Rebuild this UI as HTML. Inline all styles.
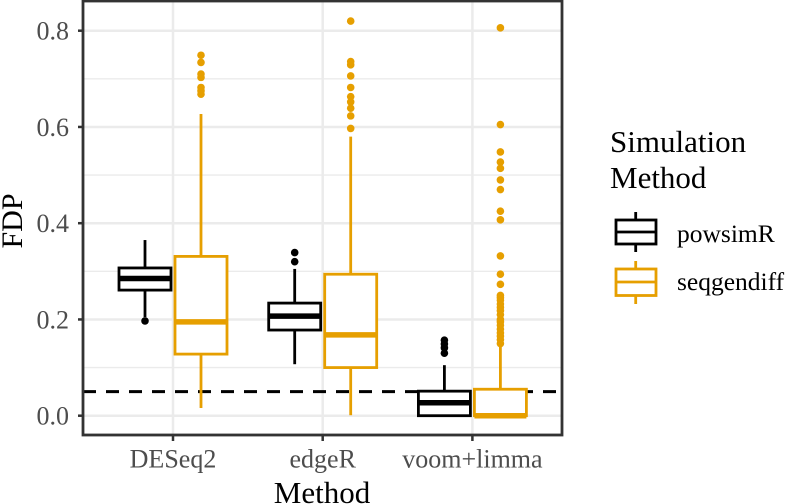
<!DOCTYPE html>
<html><head><meta charset="utf-8"><style>
body{margin:0;background:#fff;}
svg{display:block;font-family:"Liberation Serif",serif;}
</style></head><body>
<svg id="chart" width="787" height="504" viewBox="0 0 787 504"></svg>
<script>
const categories = ["DESeq2","edgeR","voom+limma"];
const seriesNames = ["powsimR","seqgendiff"];
const seriesColors = ["#000000","#E69F00"];
// [lowerWhisker, Q1, median, Q3, upperWhisker]
const powsimStats = [[0.205,0.261,0.285,0.307,0.365],[0.107,0.178,0.207,0.234,0.305],[0.0,0.0,0.027,0.051,0.105]];
const seqgenStats = [[0.016,0.128,0.195,0.331,0.627],[0.001,0.100,0.168,0.294,0.580],[0.0,0.0,0.0,0.055,0.143]];
const powsimOutliers = [[0.197],[0.320,0.339],[0.130,0.141,0.149,0.157]];
const seqgenOutliers = [
 [0.668,0.675,0.682,0.703,0.710,0.734,0.749],
 [0.597,0.623,0.639,0.652,0.663,0.682,0.706,0.729,0.736,0.820],
 [0.150,0.158,0.165,0.172,0.180,0.188,0.195,0.200,0.210,0.218,0.225,0.232,0.240,0.245,0.250,0.273,0.294,0.332,0.407,0.425,0.470,0.490,0.514,0.527,0.548,0.605,0.806]
];
const yTicks = [0.0,0.2,0.4,0.6,0.8];
const yTickLabels = ["0.0","0.2","0.4","0.6","0.8"];
const yMinor = [0.1,0.3,0.5,0.7];
const threshold = 0.05;

const svg = document.getElementById('chart');
const NS = "http://www.w3.org/2000/svg";
const P = {l:83,r:562,t:1,b:435};
const y = v => 415.7 - v*481.25;
const x = i => 173 + i*149.7;
function mk(tag, attrs, parent){const e=document.createElementNS(NS,tag);for(const k in attrs)e.setAttribute(k,attrs[k]);(parent||svg).appendChild(e);return e;}

const grid = mk('g',{});


yMinor.forEach(v=>{const l=mk('line',{x1:P.l,x2:P.r,y1:y(v),y2:y(v),stroke:'#ebebeb','stroke-width':1.3},grid);});
yTicks.forEach(v=>{const l=mk('line',{x1:P.l,x2:P.r,y1:y(v),y2:y(v),stroke:'#ebebeb','stroke-width':2.5},grid);});
categories.forEach((c,i)=>{const l=mk('line',{x1:x(i),x2:x(i),y1:P.t,y2:P.b,stroke:'#ebebeb','stroke-width':2.5},grid);});

const dash = mk('line',{x1:P.l,x2:P.r,y1:y(threshold),y2:y(threshold),stroke:'#000','stroke-width':3,'stroke-dasharray':'13,10'});



const allStats=[powsimStats,seqgenStats], allOut=[powsimOutliers,seqgenOutliers];
const off=[-28,28], bw=52;
allStats.forEach((S,s)=>{
  const col=seriesColors[s];
  S.forEach((st,i)=>{
    const cx=x(i)+off[s];
    const g=mk('g',{});
    
    
    mk('line',{x1:cx,x2:cx,y1:y(st[3]),y2:y(st[4]),stroke:col,'stroke-width':2.8},g);
    mk('line',{x1:cx,x2:cx,y1:y(st[1]),y2:y(st[0]),stroke:col,'stroke-width':2.8},g);
    mk('rect',{x:cx-bw/2,y:y(st[3]),width:bw,height:Math.max(0,y(st[1])-y(st[3])),fill:'#fff',stroke:col,'stroke-width':2.8},g);
    mk('line',{x1:cx-bw/2,x2:cx+bw/2,y1:y(st[2]),y2:y(st[2]),stroke:col,'stroke-width':5.5},g);
    allOut[s][i].forEach(v=>{const c=mk('circle',{cx:cx,cy:y(v),r:3.8,fill:col},g);});
  });
});

const border=mk('rect',{x:P.l,y:P.t,width:P.r-P.l,height:P.b-P.t,fill:'none',stroke:'#333','stroke-width':2.8});



yTicks.forEach((v,i)=>{
  mk('line',{x1:P.l-5,x2:P.l,y1:y(v),y2:y(v),stroke:'#333','stroke-width':2.5});
  const t=mk('text',{x:P.l-14,y:y(v)+9,'text-anchor':'end','font-size':26,fill:'#4d4d4d'});
  t.textContent=yTickLabels[i];
  
  
});
categories.forEach((c,i)=>{
  mk('line',{x1:x(i),x2:x(i),y1:P.b,y2:P.b+6,stroke:'#333','stroke-width':2.5});
  const t=mk('text',{x:x(i),y:467.5,'text-anchor':'middle','font-size':26,fill:'#4d4d4d'});
  t.textContent=c;
  
  
});
</script>
<script>
(function(){
const svg=document.getElementById('chart');const NS="http://www.w3.org/2000/svg";
function mk(tag,a){const e=document.createElementNS(NS,tag);for(const k in a)e.setAttribute(k,a[k]);svg.appendChild(e);return e;}
let t=mk('text',{x:322,y:503,'text-anchor':'middle','font-size':31,fill:'#000'});t.textContent='Method';


t=mk('text',{x:0,y:0,'text-anchor':'middle','font-size':30,fill:'#000',transform:'translate(22,221) rotate(-90)'});t.textContent='FDP';


t=mk('text',{x:610,y:152,'font-size':31,fill:'#000'});t.textContent='Simulation';


t=mk('text',{x:610,y:188,'font-size':31,fill:'#000'});t.textContent='Method';


const keys=[{c:'#000',t:'powsimR',y0:212,y1:220,y2:232,y3:244,y4:252,ty:242},{c:'#E69F00',t:'seqgendiff',y0:261,y1:269,y2:282,y3:295.5,y4:304,ty:290}];
keys.forEach(k=>{
  const g=document.createElementNS(NS,'g');svg.appendChild(g);
  
  
  const add=(tag,a)=>{const e=document.createElementNS(NS,tag);for(const q in a)e.setAttribute(q,a[q]);g.appendChild(e);return e;};
  add('line',{x1:635.7,x2:635.7,y1:k.y0,y2:k.y4,stroke:k.c,'stroke-width':2.8});
  add('rect',{x:616,y:k.y1,width:40,height:k.y3-k.y1,fill:'#fff',stroke:k.c,'stroke-width':2.8});
  add('line',{x1:616,x2:656,y1:k.y2,y2:k.y2,stroke:k.c,'stroke-width':2.8});
  const tx=add('text',{x:677,y:k.ty,'font-size':25.5,fill:'#000'});tx.textContent=k.t;
});
})();
</script>
</body></html>
